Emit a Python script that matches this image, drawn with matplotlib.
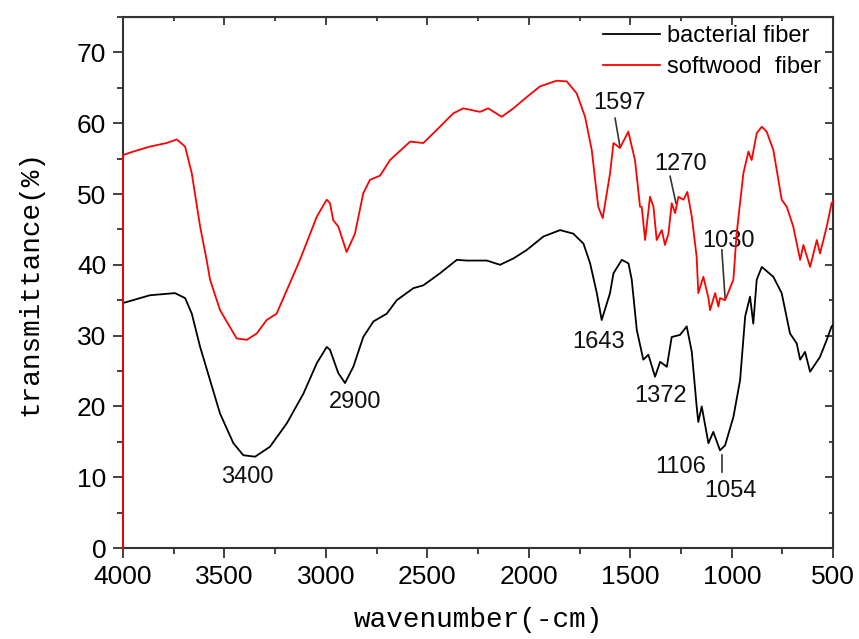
import matplotlib
matplotlib.use("Agg")
import matplotlib.pyplot as plt
from matplotlib.ticker import MultipleLocator

# ---- data ----
bact_wn = [4000, 3867, 3744, 3694, 3661, 3620, 3571, 3522, 3456, 3407, 3349, 3276, 3193, 3111,
           3045, 2996, 2980, 2939, 2906, 2865, 2816, 2766, 2700, 2651, 2569, 2520, 2438, 2355,
           2306, 2207, 2142, 2076, 2010, 1928, 1846, 1781, 1731, 1698, 1665, 1641, 1600, 1583,
           1542, 1509, 1493, 1468, 1436, 1411, 1378, 1353, 1320, 1296, 1255, 1222, 1197, 1173,
           1165, 1148, 1115, 1091, 1058, 1033, 992, 959, 934, 910, 894, 877, 852, 795, 754,
           713, 680, 663, 639, 614, 565, 532, 508, 500]
bact_T = [34.6, 35.7, 36.0, 35.3, 33.1, 28.4, 23.7, 19.0, 14.8, 13.1, 12.9, 14.3, 17.6, 21.8,
          26.1, 28.4, 28.0, 24.7, 23.3, 25.6, 29.8, 32.0, 33.1, 35.0, 36.7, 37.1, 38.8, 40.7,
          40.6, 40.6, 40.0, 40.9, 42.1, 44.0, 44.9, 44.4, 43.0, 40.2, 36.0, 32.2, 36.0, 38.8,
          40.7, 40.2, 37.9, 30.8, 26.6, 27.3, 24.2, 26.3, 25.6, 29.8, 30.1, 31.3, 27.7, 20.0,
          17.8, 20.0, 14.8, 16.4, 13.8, 14.5, 18.5, 23.7, 32.7, 35.5, 31.7, 37.9, 39.7, 38.3, 36.0,
          30.3, 28.9, 26.6, 27.7, 24.9, 27.0, 29.4, 31.3, 31.5]

soft_wn = [4000, 4000, 3949, 3867, 3785, 3735, 3694, 3661, 3620, 3588, 3571, 3522, 3440, 3390,
           3341, 3292, 3243, 3193, 3128, 3045, 2996, 2980, 2964, 2939, 2898, 2857, 2816, 2783,
           2733, 2684, 2585, 2520, 2470, 2372, 2323, 2241, 2200, 2134, 2076, 2027, 1945, 1863,
           1813, 1764, 1723, 1690, 1658, 1636, 1600, 1583, 1551, 1510, 1477, 1452, 1444, 1427,
           1403, 1386, 1370, 1345, 1329, 1312, 1296, 1279, 1263, 1238, 1219, 1197, 1173, 1165,
           1140, 1115, 1107, 1082, 1066, 1058, 1033, 992, 976, 943, 918, 902, 877, 852, 828,
           795, 754, 729, 697, 663, 647, 614, 581, 565, 532, 508, 500]
soft_T = [0.0, 55.5, 56.0, 56.7, 57.2, 57.7, 56.7, 52.9, 45.4, 40.7, 37.9, 33.6, 29.6, 29.4,
          30.3, 32.2, 33.1, 36.4, 40.7, 46.8, 49.2, 48.7, 46.3, 45.4, 41.8, 44.4, 50.1, 52.0,
          52.6, 54.8, 57.4, 57.2, 58.6, 61.4, 62.1, 61.6, 62.1, 60.9, 62.1, 63.3, 65.2, 66.0,
          65.9, 64.2, 60.9, 56.2, 48.2, 46.6, 52.9, 57.2, 56.5, 58.8, 54.8, 48.2, 48.2, 43.5,
          49.6, 48.2, 43.5, 44.9, 42.8, 44.4, 48.7, 47.3, 49.6, 49.2, 50.3, 46.8, 41.1, 36.0,
          38.3, 35.3, 33.6, 36.0, 34.1, 35.3, 35.0, 37.9, 44.4, 52.9, 56.0, 54.8, 58.6, 59.5, 58.8,
          56.2, 49.2, 48.2, 45.4, 40.7, 42.8, 39.7, 43.5, 41.6, 45.4, 48.7, 49.0]

series_labels = ["bacterial fiber", "softwood  fiber"]

# peak labels: text, text position (wn, T)
plain_labels = ["3400", "2900", "1643", "1372", "1106"]
plain_pos = [(3389, 10.0), (2857, 20.6), (1654, 29.1), (1353, 21.5), (1250, 11.4)]
arrow_labels = ["1597", "1270", "1030", "1054"]
arrow_text_pos = [(1555, 62.8), (1250, 54.2), (1018, 43.4), (1008, 8.0)]
arrow_line_from = [(1575, 60.7), (1304, 52.5), (1049, 42.1), (1049, 13.1)]
arrow_line_to = [(1551, 56.7), (1275, 48.7), (1033, 35.3), (1049, 10.8)]

# ---- figure ----
fig = plt.figure(figsize=(8.59, 6.39), dpi=100)
ax = fig.add_axes([0.1432, 0.1424, 0.8268, 0.8310])

ax.plot(bact_wn, bact_T, color="black", lw=1.3, label=series_labels[0], zorder=3)
ax.plot(soft_wn, soft_T, color="#ff0000", lw=1.3, label=series_labels[1], zorder=3.1,
        clip_on=False)

ax.set_xlim(4000, 500)
ax.set_ylim(0, 75)
ax.xaxis.set_major_locator(MultipleLocator(500))
ax.xaxis.set_minor_locator(MultipleLocator(250))
ax.yaxis.set_major_locator(MultipleLocator(10))
ax.yaxis.set_minor_locator(MultipleLocator(5))

for s in ax.spines.values():
    s.set_linewidth(1.5)
    s.set_color("#333333")

ax.tick_params(axis="both", which="both", direction="out", width=1.3, colors="#333333",
               labelcolor="black")
ax.tick_params(which="major", length=7, pad=5)
ax.tick_params(which="minor", length=4)
ax.tick_params(axis="both", labelsize=19)
for lab in ax.get_xticklabels() + ax.get_yticklabels():
    lab.set_fontfamily("Liberation Sans")

# inward ticks on top and right
axt = ax.secondary_xaxis("top")
axt.xaxis.set_major_locator(MultipleLocator(500))
axt.xaxis.set_minor_locator(MultipleLocator(250))
axt.tick_params(which="both", direction="in", labeltop=False, width=1.3, colors="#333333")
axt.tick_params(which="major", length=6)
axt.tick_params(which="minor", length=3)
axr = ax.secondary_yaxis("right")
axr.yaxis.set_major_locator(MultipleLocator(10))
axr.yaxis.set_minor_locator(MultipleLocator(5))
axr.tick_params(which="both", direction="in", labelright=False, width=1.3, colors="#333333")
axr.tick_params(which="major", length=6)
axr.tick_params(which="minor", length=3)

ax.set_xlabel("wavenumber(-cm)", fontsize=20, family="Liberation Mono", labelpad=13)
ax.set_ylabel("transmittance(%)", fontsize=20, family="Liberation Mono", labelpad=24)

for t, (x, y) in zip(plain_labels, plain_pos):
    ax.text(x, y, t, fontsize=17, family="Liberation Sans", ha="center", va="center",
            color="#111111")
for t, (x, y), p0, p1 in zip(arrow_labels, arrow_text_pos, arrow_line_from, arrow_line_to):
    ax.text(x, y, t, fontsize=17, family="Liberation Sans", ha="center", va="center",
            color="#111111")
    ax.plot([p0[0], p1[0]], [p0[1], p1[1]], color="#333333", lw=1.2)

leg = ax.legend(loc="upper right", bbox_to_anchor=(1.003, 1.012), frameon=False,
                prop={"family": "Liberation Sans", "size": 17}, handlelength=2.4,
                handletextpad=0.3, labelspacing=0.38, borderaxespad=0.2)

fig.savefig("out.png", dpi=100)
